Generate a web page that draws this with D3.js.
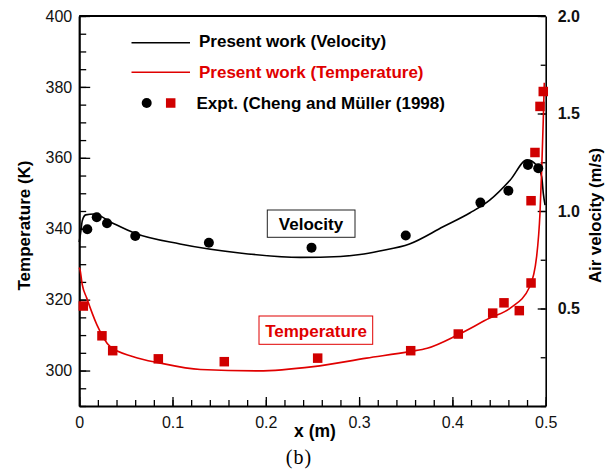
<!DOCTYPE html>
<html>
<head>
<meta charset="utf-8">
<script src="https://cdn.jsdelivr.net/npm/d3@7"></script>
<style>
  body { margin: 0; background: #fff; }
  text { font-family: "Liberation Sans", Arial, sans-serif; }
</style>
</head>
<body>
<div id="chart"></div>
<script>
// computed curves (x in m)
const velCurveX = [0, 0.0016, 0.0033, 0.007, 0.016, 0.035, 0.059, 0.108, 0.172, 0.237, 0.28, 0.301, 0.322, 0.354, 0.39, 0.419, 0.44, 0.462, 0.48, 0.49, 0.4957, 0.4974, 0.4993];
const velCurve  = [0.84, 0.89, 0.95, 0.98, 0.985, 0.94, 0.887, 0.831, 0.785, 0.762, 0.767, 0.777, 0.795, 0.831, 0.919, 0.991, 1.056, 1.159, 1.262, 1.236, 1.176, 1.092, 1.03];

const tempCurveX = [0, 0.0009, 0.0033, 0.008, 0.019, 0.033, 0.058, 0.087, 0.13, 0.192, 0.251, 0.308, 0.355, 0.373, 0.406, 0.44, 0.462, 0.483, 0.4903, 0.4939, 0.4957, 0.4974, 0.4985];
const tempCurve  = [329, 328.4, 324.2, 320.5, 312.9, 306.8, 303.9, 302.1, 300.3, 299.9, 301.1, 303.5, 305.4, 306.3, 310.1, 314.8, 317.6, 323.7, 332.2, 344.5, 356.6, 370.7, 381.2];

// experiment (Cheng and Muller 1998)
const exptVelX = [0.0087, 0.0188, 0.0298, 0.0601, 0.139, 0.249, 0.35, 0.43, 0.46, 0.481, 0.492];
const exptVel  = [0.906, 0.968, 0.937, 0.872, 0.837, 0.812, 0.874, 1.043, 1.104, 1.236, 1.219];

const exptTempX = [0.0044, 0.0244, 0.0359, 0.0848, 0.1555, 0.2556, 0.3553, 0.4063, 0.4432, 0.4553, 0.4717, 0.4843, 0.4843, 0.4885, 0.4939, 0.4974];
const exptTemp  = [318.2, 309.8, 305.6, 303.3, 302.5, 303.5, 305.6, 310.3, 316.2, 319.1, 316.9, 324.7, 347.9, 361.5, 374.5, 378.7];

// ticks
const xTicks = [0, 0.1, 0.2, 0.3, 0.4, 0.5];
const tTicks = [300, 320, 340, 360, 380, 400];
const vTicks = [0.5, 1.0, 1.5, 2.0];

const width = 608, height = 473;
const red = "#e00000", redMark = "#d00000";

const svg = d3.select("#chart").append("svg")
    .attr("width", width)
    .attr("height", height);

const x = d3.scaleLinear().domain([0, 0.5]).range([79.2, 545.7]);
const yT = d3.scaleLinear().domain([290, 400]).range([406, 16]);
const yV = d3.scaleLinear().domain([0, 2]).range([406, 16]);

const plotLeft = x.range()[0], plotRight = x.range()[1];
const plotTop = yT.range()[1], plotBottom = yT.range()[0];

// minor ticks
svg.append("g")
    .attr("transform", "translate(0," + plotBottom + ")")
    .call(d3.axisBottom(x).tickValues(d3.range(0, 0.5001, 0.02)).tickFormat("").tickSize(-6).tickSizeOuter(0))
    .call(g => g.select(".domain").remove());
svg.append("g")
    .attr("transform", "translate(" + plotLeft + ",0)")
    .call(d3.axisLeft(yT).tickValues(d3.range(290, 400.1, 5)).tickFormat("").tickSize(-7).tickSizeOuter(0))
    .call(g => g.select(".domain").remove());
svg.append("g")
    .attr("transform", "translate(" + plotRight + ",0)")
    .call(d3.axisRight(yV).tickValues(d3.range(0, 2.01, 0.25)).tickFormat("").tickSize(-5).tickSizeOuter(0))
    .call(g => g.select(".domain").remove());

// major axes
const xAxis = svg.append("g")
    .attr("transform", "translate(0," + plotBottom + ")")
    .call(d3.axisBottom(x).tickValues(xTicks).tickFormat(d => d === 0 ? "0" : d3.format(".1f")(d)).tickSize(-9).tickSizeOuter(0).tickPadding(6));
xAxis.selectAll("text").attr("dy", "1em");

const tAxis = svg.append("g")
    .attr("transform", "translate(" + plotLeft + ",0)")
    .call(d3.axisLeft(yT).tickValues(tTicks).tickSize(-11).tickSizeOuter(0).tickPadding(7));

const vAxis = svg.append("g")
    .attr("transform", "translate(" + plotRight + ",0)")
    .call(d3.axisRight(yV).tickValues(vTicks).tickFormat(d3.format(".1f")).tickSize(-8).tickSizeOuter(0).tickPadding(12));
vAxis.selectAll("text").style("font-weight", "bold");

svg.selectAll(".tick text")
    .style("font-family", "'Liberation Sans', Arial, sans-serif")
    .style("font-size", "16px")
    .attr("fill", "#111");
svg.selectAll(".tick line").attr("stroke", "#000").attr("stroke-width", 1.3);
xAxis.select(".domain").attr("stroke-width", 2.2);
tAxis.select(".domain").attr("stroke-width", 2.2);
vAxis.select(".domain").attr("stroke-width", 1.6);

// top frame
svg.append("line")
    .attr("x1", plotLeft).attr("x2", plotRight)
    .attr("y1", plotTop).attr("y2", plotTop)
    .attr("stroke", "#000").attr("stroke-width", 2.2);

// curves
const velLine = d3.line().x(d => x(d[0])).y(d => yV(d[1])).curve(d3.curveMonotoneX);
const tempLine = d3.line().x(d => x(d[0])).y(d => yT(d[1])).curve(d3.curveMonotoneX);

svg.append("path")
    .datum(d3.zip(velCurveX, velCurve))
    .attr("d", velLine)
    .attr("fill", "none").attr("stroke", "#000").attr("stroke-width", 1.6);

svg.append("path")
    .datum(d3.zip(tempCurveX, tempCurve))
    .attr("d", tempLine)
    .attr("fill", "none").attr("stroke", red).attr("stroke-width", 1.6);

// experiment markers
svg.append("g").selectAll("circle")
    .data(d3.zip(exptVelX, exptVel))
    .join("circle")
    .attr("cx", d => x(d[0]))
    .attr("cy", d => yV(d[1]))
    .attr("r", 5)
    .attr("fill", "#000");

const sq = 9.5;
svg.append("g").selectAll("rect")
    .data(d3.zip(exptTempX, exptTemp))
    .join("rect")
    .attr("x", d => x(d[0]) - sq / 2)
    .attr("y", d => yT(d[1]) - sq / 2)
    .attr("width", sq).attr("height", sq)
    .attr("fill", redMark);

// legend
const legend = svg.append("g").style("font-weight", "bold").style("font-size", "17px");
legend.append("line").attr("x1", 131.5).attr("x2", 190).attr("y1", 42.7).attr("y2", 42.7)
    .attr("stroke", "#000").attr("stroke-width", 1.5);
legend.append("text").attr("x", 199).attr("y", 47).text("Present work (Velocity)");
legend.append("line").attr("x1", 131.5).attr("x2", 190).attr("y1", 72.3).attr("y2", 72.3)
    .attr("stroke", red).attr("stroke-width", 1.5);
legend.append("text").attr("x", 199).attr("y", 77.5).attr("fill", red).text("Present work (Temperature)");
legend.append("circle").attr("cx", 146.7).attr("cy", 103).attr("r", 5).attr("fill", "#000");
legend.append("rect").attr("x", 170.7 - sq / 2).attr("y", 103 - sq / 2).attr("width", sq).attr("height", sq).attr("fill", redMark);
legend.append("text").attr("x", 196.5).attr("y", 108.5).text("Expt. (Cheng and M\u00fcller (1998)");

// boxed labels
svg.append("rect").attr("x", 267.3).attr("y", 210).attr("width", 87.7).attr("height", 27.3)
    .attr("fill", "#fff").attr("stroke", "#222").attr("stroke-width", 1);
svg.append("text").attr("x", 311).attr("y", 229.5).attr("text-anchor", "middle")
    .style("font-weight", "bold").style("font-size", "17px").text("Velocity");

svg.append("rect").attr("x", 259).attr("y", 316).attr("width", 113.7).attr("height", 28.3)
    .attr("fill", "#fff").attr("stroke", red).attr("stroke-width", 1);
svg.append("text").attr("x", 316).attr("y", 336.5).attr("text-anchor", "middle").attr("fill", red)
    .style("font-weight", "bold").style("font-size", "17px").text("Temperature");

// axis titles
svg.append("text")
    .attr("transform", "translate(30,225.5) rotate(-90)")
    .attr("text-anchor", "middle")
    .style("font-weight", "bold").style("font-size", "17px")
    .text("Temperature (K)");

svg.append("text")
    .attr("transform", "translate(601,215.5) rotate(-90)")
    .attr("text-anchor", "middle")
    .style("font-weight", "bold").style("font-size", "16.8px")
    .text("Air velocity (m/s)");

svg.append("text")
    .attr("x", 315).attr("y", 437)
    .attr("text-anchor", "middle")
    .style("font-weight", "bold").style("font-size", "17.5px")
    .text("x (m)");

svg.append("text")
    .attr("x", 299).attr("y", 464)
    .attr("text-anchor", "middle")
    .style("font-family", "'Liberation Serif', 'Times New Roman', serif")
    .style("font-size", "20px").style("letter-spacing", "1px")
    .text("(b)");
</script>
</body>
</html>
